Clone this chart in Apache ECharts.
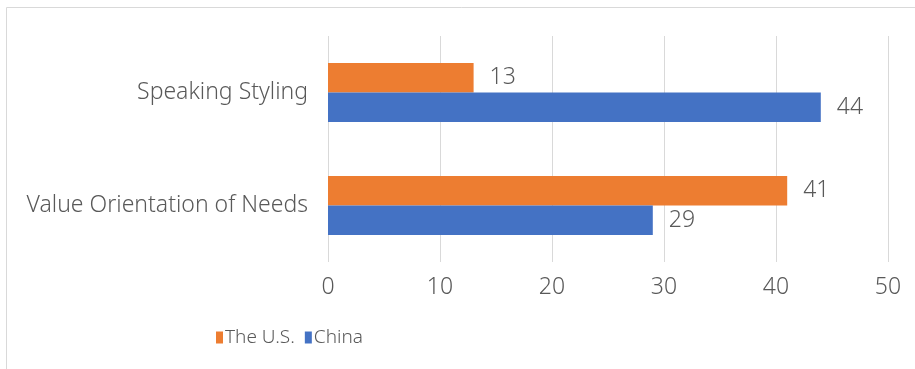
<!DOCTYPE html>
<html>
<head>
<meta charset="utf-8">
<script src="https://cdn.jsdelivr.net/npm/echarts@6/dist/echarts.min.js"></script>
<style>
  html, body { margin: 0; padding: 0; background: #fff; }
  #chart { width: 915px; height: 369px; }
</style>
</head>
<body>
<div id="chart"></div>
<script>
// categories, bottom to top
const categories = ['Value Orientation of Needs', 'Speaking Styling']
const usValues = [41, 13]
const chinaValues = [29, 44]
const seriesNames = ['The U.S.', 'China']

const textColor = '#595959'
const fontFamily = '"Noto Sans", sans-serif'

const chart = echarts.init(document.getElementById('chart'))

const option = {
  animation: false,
  textStyle: { fontFamily: fontFamily, fontWeight: 300 },
  // outer frame of the chart area
  graphic: [
    {
      type: 'rect',
      shape: { x: 6.5, y: 7.5, width: 1000, height: 1000 },
      style: { fill: 'none', stroke: '#d9d9d9', lineWidth: 1 },
      silent: true
    }
  ],
  grid: {
    left: 328,
    right: 27,
    top: 36,
    bottom: 107,
    containLabel: false
  },
  legend: {
    bottom: 17,
    left: 211,
    itemWidth: 7,
    itemHeight: 12,
    itemGap: 10,
    icon: 'rect',
    textStyle: {
      color: textColor,
      fontSize: 19,
      fontWeight: 300,
      padding: [0, 0, 0, -3]
    },
    data: seriesNames
  },
  xAxis: {
    type: 'value',
    min: 0,
    max: 50,
    interval: 10,
    axisLine: { show: false },
    axisTick: { show: false },
    splitLine: { lineStyle: { color: '#d9d9d9', width: 1 } },
    axisLabel: { color: textColor, fontSize: 23, fontWeight: 300, margin: 14 }
  },
  yAxis: {
    type: 'category',
    data: categories,
    axisLine: { show: false },
    axisTick: { show: false },
    axisLabel: { color: textColor, fontSize: 23, fontWeight: 300, margin: 20 }
  },
  series: [
    {
      name: seriesNames[0],
      type: 'bar',
      data: usValues,
      barGap: '0%',
      barCategoryGap: '48%',
      itemStyle: { color: '#ED7D31' },
      label: { show: true, position: 'right', distance: 16, color: textColor, fontSize: 23, fontWeight: 300 }
    },
    {
      name: seriesNames[1],
      type: 'bar',
      data: chinaValues,
      barGap: '0%',
      barCategoryGap: '48%',
      itemStyle: { color: '#4472C4' },
      label: { show: true, position: 'right', distance: 16, color: textColor, fontSize: 23, fontWeight: 300 }
    }
  ]
}

chart.setOption(option)
</script>
</body>
</html>
